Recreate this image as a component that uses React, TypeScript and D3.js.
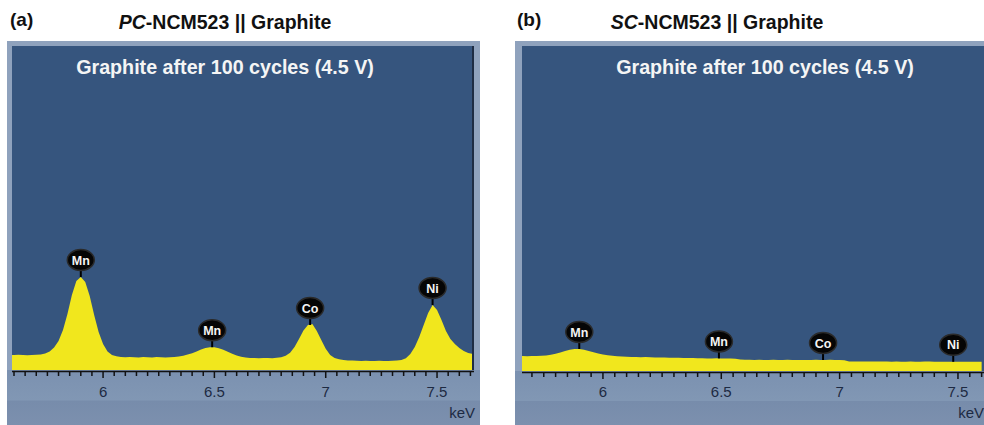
import React, { useEffect, useRef } from 'react';
import * as d3 from 'd3';

// tick labels and peak markers
const majorTicks = [6, 6.5, 7, 7.5];
const tickLabels = ['6', '6.5', '7', '7.5'];
const peakNames = ['Mn', 'Mn', 'Co', 'Ni'];
const peakEnergies = [5.9, 6.49, 6.93, 7.48];

// spectrum channels are 0.02 keV wide
const channelStep = 0.02;

// (a) PC-NCM523, counts per channel from 5.58 keV
const startA = 5.58;
const countsA = [
  150, 150, 152, 150, 148, 150, 152, 155, 165, 185,
  225, 290, 400, 560, 750, 890, 930, 880, 740, 550,
  380, 260, 185, 150, 138, 130, 128, 130, 128, 126,
  130, 128, 126, 130, 128, 126, 128, 130, 134, 142,
  155, 168, 185, 205, 220, 228, 228, 218, 202, 182,
  162, 145, 132, 124, 120, 120, 118, 120, 120, 118,
  122, 128, 142, 172, 230, 310, 395, 450, 460, 390,
  300, 212, 150, 120, 108, 100, 96, 94, 92, 90,
  92, 90, 90, 92, 90, 90, 92, 94, 100, 118,
  160, 230, 330, 450, 570, 650, 600, 500, 390, 310,
  260, 220, 190, 170, 160, 158,
];

// (b) SC-NCM523, counts per channel from 5.64 keV
const startB = 5.64;
const countsB = [
  150, 150, 148, 150, 150, 152, 155, 162, 172, 185,
  200, 212, 220, 220, 212, 200, 188, 175, 165, 158,
  152, 148, 145, 142, 140, 140, 138, 140, 138, 136,
  135, 134, 132, 133, 132, 130, 130, 130, 128, 128,
  126, 126, 127, 126, 125, 124, 122, 115, 112, 112,
  110, 112, 110, 110, 112, 110, 110, 112, 110, 110,
  110, 110, 110, 112, 110, 110, 112, 110, 110, 108,
  96, 95, 95, 94, 95, 94, 94, 95, 94, 93,
  94, 93, 93, 94, 93, 92, 94, 96, 93, 92,
  92, 93, 92, 92, 92, 92, 92, 92, 92,
];

const panels = [
  {
    letter: '(a)', italic: 'PC', rest: '-NCM523 || Graphite',
    start: startA, counts: countsA, domain: [5.591, 7.666], yMax: 3240,
    frameL: 7, frameR: 480, plotL: 12, plotR: 474, plotB: 370,
    letterX: 10, titleX: 225, subX: 225, keVX: 475, edge: true,
  },
  {
    letter: '(b)', italic: 'SC', rest: '-NCM523 || Graphite',
    start: startB, counts: countsB, domain: [5.658, 7.61], yMax: 3250,
    frameL: 515, frameR: 990, plotL: 522, plotR: 984, plotB: 371,
    letterX: 517, titleX: 717, subX: 765, keVX: 984, edge: false,
  },
];

const font = "'Liberation Sans', Arial, Helvetica, sans-serif";

export default function App() {
  const svgRef = useRef<SVGSVGElement>(null);

  useEffect(() => {
    const svg = d3.select(svgRef.current);
    svg.selectAll('*').remove();

    const defs = svg.append('defs');
    const grad = defs.append('linearGradient').attr('id', 'strip').attr('x1', 0).attr('x2', 0).attr('y1', 0).attr('y2', 1);
    grad.append('stop').attr('offset', '0%').attr('stop-color', '#7b91b0');
    grad.append('stop').attr('offset', '55%').attr('stop-color', '#8197b4');
    grad.append('stop').attr('offset', '56%').attr('stop-color', '#778cab');
    grad.append('stop').attr('offset', '100%').attr('stop-color', '#7c90ae');

    panels.forEach((p) => {
      const top = 46;
      const g = svg.append('g');

      const x = d3.scaleLinear().domain(p.domain).range([p.plotL, p.plotR]);
      const y = d3.scaleLinear().domain([0, p.yMax]).range([p.plotB, top]);

      const data = p.counts.map((c, i) => ({ e: p.start + i * channelStep, c }));

      // frame + bottom strip
      g.append('rect').attr('x', p.frameL).attr('y', 41).attr('width', p.frameR - p.frameL).attr('height', 425 - 41).attr('fill', '#8fa2bd');
      g.append('rect').attr('x', p.frameL).attr('y', p.plotB).attr('width', p.frameR - p.frameL).attr('height', 425 - p.plotB).attr('fill', 'url(#strip)');
      g.append('rect').attr('x', p.plotL).attr('y', top).attr('width', p.plotR - p.plotL).attr('height', p.plotB - top).attr('fill', '#36557e');
      if (p.edge) {
        g.append('line').attr('x1', p.plotR - 1).attr('x2', p.plotR - 1).attr('y1', top).attr('y2', p.plotB)
          .attr('stroke', '#1e2d44').attr('stroke-width', 2);
      }

      const clipId = 'clip' + p.letter.replace(/\W/g, '');
      defs.append('clipPath').attr('id', clipId).append('rect')
        .attr('x', p.plotL).attr('y', top).attr('width', p.plotR - p.plotL - (p.edge ? 2 : 0)).attr('height', p.plotB - top);

      const area = d3.area<{ e: number; c: number }>()
        .x((d) => x(d.e))
        .y0(p.plotB)
        .y1((d) => y(d.c));

      g.append('path').datum(data).attr('clip-path', `url(#${clipId})`)
        .attr('d', area).attr('fill', '#f1e71d');

      // axis
      const minor = d3.range(0, 60).map((i) => +(5.5 + i * 0.05).toFixed(2))
        .filter((v) => v >= p.domain[0] && v <= p.domain[1]);
      const axisG = g.append('g');
      axisG.append('line').attr('x1', p.plotL).attr('x2', p.plotR).attr('y1', p.plotB + 1.5).attr('y2', p.plotB + 1.5)
        .attr('stroke', '#111').attr('stroke-width', 1.5);
      axisG.selectAll('line.tick').data(minor).enter().append('line')
        .attr('class', 'tick')
        .attr('x1', (d) => x(d)).attr('x2', (d) => x(d))
        .attr('y1', p.plotB + 1)
        .attr('y2', (d) => p.plotB + (majorTicks.includes(d) ? 8 : 6))
        .attr('stroke', '#111').attr('stroke-width', 1.5);
      axisG.selectAll('text').data(majorTicks).enter().append('text')
        .attr('x', (d) => x(d)).attr('y', 397)
        .attr('text-anchor', 'middle')
        .attr('font-family', font).attr('font-size', 15).attr('fill', '#1d2a42')
        .text((d, i) => tickLabels[i]);
      g.append('text').attr('x', p.keVX).attr('y', 418).attr('text-anchor', 'end')
        .attr('font-family', font).attr('font-size', 15).attr('fill', '#1d2a42').text('keV');

      // peak markers
      peakEnergies.forEach((e, i) => {
        const idx = Math.round((e - p.start) / channelStep);
        const py = y(p.counts[Math.max(0, Math.min(p.counts.length - 1, idx))]);
        const cx = x(e);
        const cy = py - 17;
        g.append('line').attr('x1', cx).attr('x2', cx).attr('y1', cy + 8).attr('y2', py)
          .attr('stroke', '#000').attr('stroke-width', 2);
        g.append('ellipse').attr('cx', cx).attr('cy', cy).attr('rx', 13.5).attr('ry', 10.5)
          .attr('fill', '#050505').attr('stroke', '#2a2a2a').attr('stroke-width', 1.5);
        g.append('text').attr('x', cx).attr('y', cy + 4.5).attr('text-anchor', 'middle')
          .attr('font-family', font).attr('font-weight', 'bold').attr('font-size', 12.5)
          .attr('fill', '#f4f4f4').text(peakNames[i]);
      });

      // titles
      g.append('text').attr('x', p.letterX).attr('y', 26)
        .attr('font-family', font).attr('font-weight', 'bold').attr('font-size', 19).attr('fill', '#111')
        .text(p.letter);
      const t = g.append('text').attr('x', p.titleX).attr('y', 29).attr('text-anchor', 'middle')
        .attr('font-family', font).attr('font-weight', 'bold').attr('font-size', 19.5).attr('fill', '#111');
      t.append('tspan').attr('font-style', 'italic').text(p.italic);
      t.append('tspan').text(p.rest);
      g.append('text').attr('x', p.subX).attr('y', 74).attr('text-anchor', 'middle')
        .attr('font-family', font).attr('font-weight', 'bold').attr('font-size', 19.7).attr('fill', '#f5f5f5')
        .text('Graphite after 100 cycles (4.5 V)');
    });
  }, []);

  return (
    <div style={{ position: 'absolute', left: 0, top: 0, width: 984, height: 425, background: '#fff' }}>
      <svg ref={svgRef} width={984} height={425}></svg>
    </div>
  );
}
